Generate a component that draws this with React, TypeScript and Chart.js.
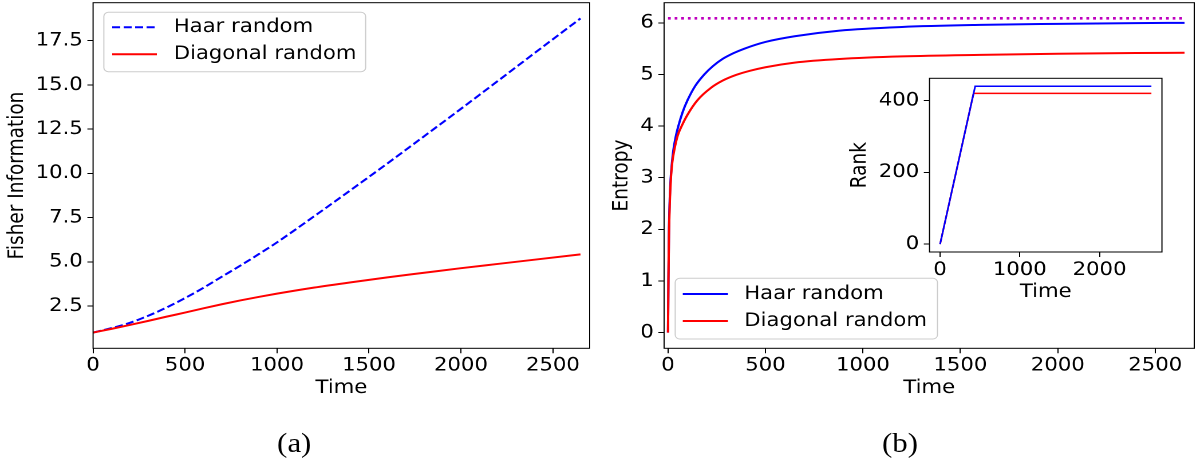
import React, { useEffect, useRef } from "react";
import { Chart, registerables } from "chart.js";

Chart.register(...registerables);

// ---------- data ----------
const FISHER_T = [0, 100, 200, 300, 400, 500, 600, 700, 800, 900, 1000, 1200, 1400, 1600, 1800, 2000, 2200, 2400, 2650];
const FISHER_HAAR = [1.0, 1.25, 1.55, 1.95, 2.42, 2.95, 3.53, 4.16, 4.78, 5.43, 6.1, 7.56, 9.05, 10.56, 12.1, 13.65, 15.22, 16.8, 18.76];
const FISHER_DIAG = [1.0, 1.21, 1.43, 1.66, 1.9, 2.13, 2.37, 2.6, 2.815, 3.015, 3.2, 3.54, 3.84, 4.12, 4.38, 4.64, 4.88, 5.12, 5.42];

const ENT_T_HAAR = [0, 2, 5, 9, 14, 20, 27, 40, 53, 75, 100, 140, 186, 230, 280, 335, 392, 500, 650, 881, 1200, 1600, 2000, 2400, 2650];
const ENT_HAAR = [0, 1.0, 2.0, 2.6, 3.0, 3.28, 3.52, 3.8, 4.0, 4.27, 4.5, 4.78, 5.0, 5.16, 5.3, 5.41, 5.5, 5.63, 5.74, 5.85, 5.92, 5.96, 5.98, 5.995, 6.0];
const ENT_T_DIAG = [0, 2, 5, 9, 15, 22, 33, 50, 70, 100, 151, 220, 280, 349, 420, 500, 650, 881, 1200, 1600, 2000, 2400, 2650];
const ENT_DIAG = [0, 0.95, 1.9, 2.5, 3.0, 3.3, 3.55, 3.82, 4.0, 4.22, 4.5, 4.74, 4.88, 4.99, 5.07, 5.14, 5.23, 5.3, 5.35, 5.38, 5.4, 5.415, 5.42];
const ENT_MAX_T = [0, 2650];
const ENT_MAX = [6.087, 6.087];

const RANK_T_HAAR = [0, 440, 2650];
const RANK_HAAR = [0, 440, 440];
const RANK_T_DIAG = [0, 420, 2650];
const RANK_DIAG = [0, 420, 420];

const FISHER_X_TICKS = [0, 500, 1000, 1500, 2000, 2500];
const FISHER_Y_TICKS = [2.5, 5.0, 7.5, 10.0, 12.5, 15.0, 17.5];
const ENT_X_TICKS = [0, 500, 1000, 1500, 2000, 2500];
const ENT_Y_TICKS = [0, 1, 2, 3, 4, 5, 6];
const RANK_X_TICKS = [0, 1000, 2000];
const RANK_Y_TICKS = [0, 200, 400];

const LEGEND = ["Haar random", "Diagonal random"];

// ---------- styling ----------
const S = 1.145; // horizontal stretch of the original figure
const INNER_W = 1200 / S;
const FAMILY = "DejaVu Sans";
const FS = 18.5;
const font = { family: FAMILY, size: FS, lineHeight: 1.2 };
const BLUE = "#0000ff";
const RED = "#ff0000";
const MAGENTA = "#bf00bf";

const pts = (xs: number[], ys: number[]) => xs.map((x, i) => ({ x, y: ys[i] }));

const zeroPadding = (s: any) => {
  s.paddingTop = 0;
  s.paddingBottom = 0;
  s.paddingLeft = 0;
  s.paddingRight = 0;
};

const spinesPlugin = (fillWhite: boolean) => ({
  id: "spines",
  beforeDraw(chart: any) {
    if (!fillWhite) return;
    const { ctx, chartArea: a } = chart;
    ctx.save();
    ctx.fillStyle = "#ffffff";
    ctx.fillRect(a.left, a.top, a.right - a.left, a.bottom - a.top);
    ctx.restore();
  },
  afterDraw(chart: any) {
    const { ctx, chartArea: a } = chart;
    ctx.save();
    ctx.strokeStyle = "#000";
    ctx.lineWidth = 1;
    ctx.strokeRect(a.left, a.top, a.right - a.left, a.bottom - a.top);
    ctx.restore();
  },
});

const legendPlugin = (cfg: { box: number[]; x0: number; x1: number; tx: number; rows: number[] }) => ({
  id: "boxLegend",
  afterDraw(chart: any) {
    const ctx = chart.ctx;
    const [l, t, r, b] = cfg.box;
    ctx.save();
    ctx.beginPath();
    if (ctx.roundRect) ctx.roundRect(l, t, r - l, b - t, 4);
    else ctx.rect(l, t, r - l, b - t);
    ctx.fillStyle = "rgba(255,255,255,0.8)";
    ctx.fill();
    ctx.strokeStyle = "#cccccc";
    ctx.lineWidth = 1;
    ctx.stroke();
    LEGEND.forEach((name, i) => {
      const ds = chart.data.datasets.find((d: any) => d.label === name);
      if (!ds) return;
      const y = cfg.rows[i];
      ctx.beginPath();
      ctx.strokeStyle = ds.borderColor;
      ctx.lineWidth = ds.borderWidth;
      ctx.setLineDash(ds.borderDash || []);
      ctx.moveTo(cfg.x0, y);
      ctx.lineTo(cfg.x1, y);
      ctx.stroke();
      ctx.setLineDash([]);
      ctx.fillStyle = "#000";
      ctx.font = `${FS}px "${FAMILY}"`;
      ctx.textBaseline = "middle";
      ctx.textAlign = "left";
      ctx.fillText(name, cfg.tx, y);
    });
    ctx.restore();
  },
});

function xAxis(min: number, max: number, ticks: number[], height: number, tickPad: number, titlePad: number) {
  return {
    type: "linear",
    position: "bottom",
    min,
    max,
    afterBuildTicks: (s: any) => {
      s.ticks = ticks.map((v) => ({ value: v }));
    },
    afterFit: (s: any) => {
      s.height = height;
      zeroPadding(s);
    },
    grid: { display: true, drawOnChartArea: false, drawTicks: true, tickLength: 5, tickWidth: 1, tickColor: "#000", color: "#000" },
    border: { display: false },
    ticks: { color: "#000", font, padding: tickPad, maxRotation: 0, autoSkip: false, callback: (v: any) => String(v) },
    title: { display: true, text: "Time", color: "#000", font, padding: { top: 0, bottom: titlePad } },
  };
}

function yAxis(min: number, max: number, ticks: number[], width: number, title: string, titlePad: number, fmt: (v: number) => string) {
  return {
    type: "linear",
    position: "left",
    min,
    max,
    afterBuildTicks: (s: any) => {
      s.ticks = ticks.map((v) => ({ value: v }));
    },
    afterFit: (s: any) => {
      s.width = width;
      zeroPadding(s);
    },
    grid: { display: true, drawOnChartArea: false, drawTicks: true, tickLength: 5, tickWidth: 1, tickColor: "#000", color: "#000" },
    border: { display: false },
    ticks: { color: "#000", font, padding: 4, autoSkip: false, callback: (v: any) => fmt(Number(v)) },
    title: { display: true, text: title, color: "#000", font, padding: { top: titlePad, bottom: 0 } },
  };
}

const baseOptions = (padding: any, scales: any) => ({
  animation: false,
  responsive: true,
  maintainAspectRatio: false,
  devicePixelRatio: 2,
  events: [],
  layout: { padding, autoPadding: false },
  plugins: { legend: { display: false }, tooltip: { enabled: false } },
  elements: { point: { radius: 0 } },
  scales,
});

function fisherConfig(): any {
  return {
    type: "line",
    data: {
      datasets: [
        { label: "Haar random", data: pts(FISHER_T, FISHER_HAAR), borderColor: BLUE, borderWidth: 2, borderDash: [7, 3], cubicInterpolationMode: "monotone", order: 1, fill: false },
        { label: "Diagonal random", data: pts(FISHER_T, FISHER_DIAG), borderColor: RED, borderWidth: 2, cubicInterpolationMode: "monotone", order: 0, fill: false },
      ],
    },
    options: baseOptions(
      { left: 0, top: 2.7, right: 9, bottom: 0 },
      {
        x: xAxis(0, 2700, FISHER_X_TICKS, 71.7, 1.1, 20.6),
        y: yAxis(0.11, 19.65, FISHER_Y_TICKS, 81.3, "Fisher Information", 3.9, (v) => v.toFixed(1)),
      }
    ),
    plugins: [spinesPlugin(false), legendPlugin({ box: [90.7, 12.3, 319.3, 71.7], x0: 98, x1: 137, tx: 151.7, rows: [27.3, 54.3] })],
  };
}

function entropyConfig(): any {
  return {
    type: "line",
    data: {
      datasets: [
        { label: "Haar random", data: pts(ENT_T_HAAR, ENT_HAAR), borderColor: BLUE, borderWidth: 2, cubicInterpolationMode: "monotone", order: 2, fill: false },
        { label: "Diagonal random", data: pts(ENT_T_DIAG, ENT_DIAG), borderColor: RED, borderWidth: 2, cubicInterpolationMode: "monotone", order: 1, fill: false },
        { data: pts(ENT_MAX_T, ENT_MAX), borderColor: MAGENTA, borderWidth: 2.6, borderDash: [2.4, 3.4], tension: 0, order: 0, fill: false },
      ],
    },
    options: baseOptions(
      { left: 0, top: 2.7, right: 5, bottom: 0 },
      {
        x: xAxis(-20, 2700, ENT_X_TICKS, 71.7, 1.1, 20.6),
        y: yAxis(-0.304, 6.39, ENT_Y_TICKS, 56, "Entropy", 8.1, (v) => String(v)),
      }
    ),
    plugins: [spinesPlugin(false), legendPlugin({ box: [65.7, 278.3, 294.7, 339], x0: 72.3, x1: 111.7, tx: 126, rows: [294, 321] })],
  };
}

function rankConfig(): any {
  return {
    type: "line",
    data: {
      datasets: [
        { label: "Haar random", data: pts(RANK_T_HAAR, RANK_HAAR), borderColor: BLUE, borderWidth: 1.5, tension: 0, order: 0, fill: false },
        { label: "Diagonal random", data: pts(RANK_T_DIAG, RANK_DIAG), borderColor: RED, borderWidth: 1.5, tension: 0, order: 1, fill: false },
      ],
    },
    options: baseOptions(
      { left: 0, top: 18.3, right: 15.2, bottom: 8 },
      {
        x: xAxis(-132.5, 2782.5, RANK_X_TICKS, 60, 1.9, 8.6),
        y: yAxis(-22, 462, RANK_Y_TICKS, 71.8, "Rank", 0, (v) => String(v)),
      }
    ),
    plugins: [spinesPlugin(true)],
  };
}

function ChartBox(props: { left: number; top: number; width: number; height: number; make: () => any }) {
  const ref = useRef<HTMLCanvasElement>(null);
  useEffect(() => {
    const chart = new Chart(ref.current as HTMLCanvasElement, props.make());
    return () => chart.destroy();
  }, []);
  return (
    <div style={{ position: "absolute", left: props.left, top: props.top, width: props.width, height: props.height }}>
      <canvas ref={ref} />
    </div>
  );
}

const captionStyle = (cx: number): React.CSSProperties => ({
  position: "absolute",
  left: cx - 40,
  width: 80,
  top: 428,
  height: 30,
  lineHeight: "30px",
  textAlign: "center",
  fontFamily: '"Liberation Serif", "DejaVu Serif", serif',
  fontSize: 27,
  color: "#000",
});

export default function App() {
  return (
    <div style={{ position: "absolute", left: 0, top: 0, width: 1200, height: 459, overflow: "hidden", background: "#fff" }}>
      <div style={{ position: "absolute", left: 0, top: 0, width: INNER_W, height: 459, transform: `scaleX(${S})`, transformOrigin: "0 0" }}>
        <ChartBox left={0} top={0} width={524} height={420} make={fisherConfig} />
        <ChartBox left={524} top={0} width={524} height={420} make={entropyConfig} />
        <ChartBox left={740} top={60} width={290} height={260} make={rankConfig} />
        <div style={captionStyle(257)}>(a)</div>
        <div style={captionStyle(786)}>(b)</div>
      </div>
    </div>
  );
}
